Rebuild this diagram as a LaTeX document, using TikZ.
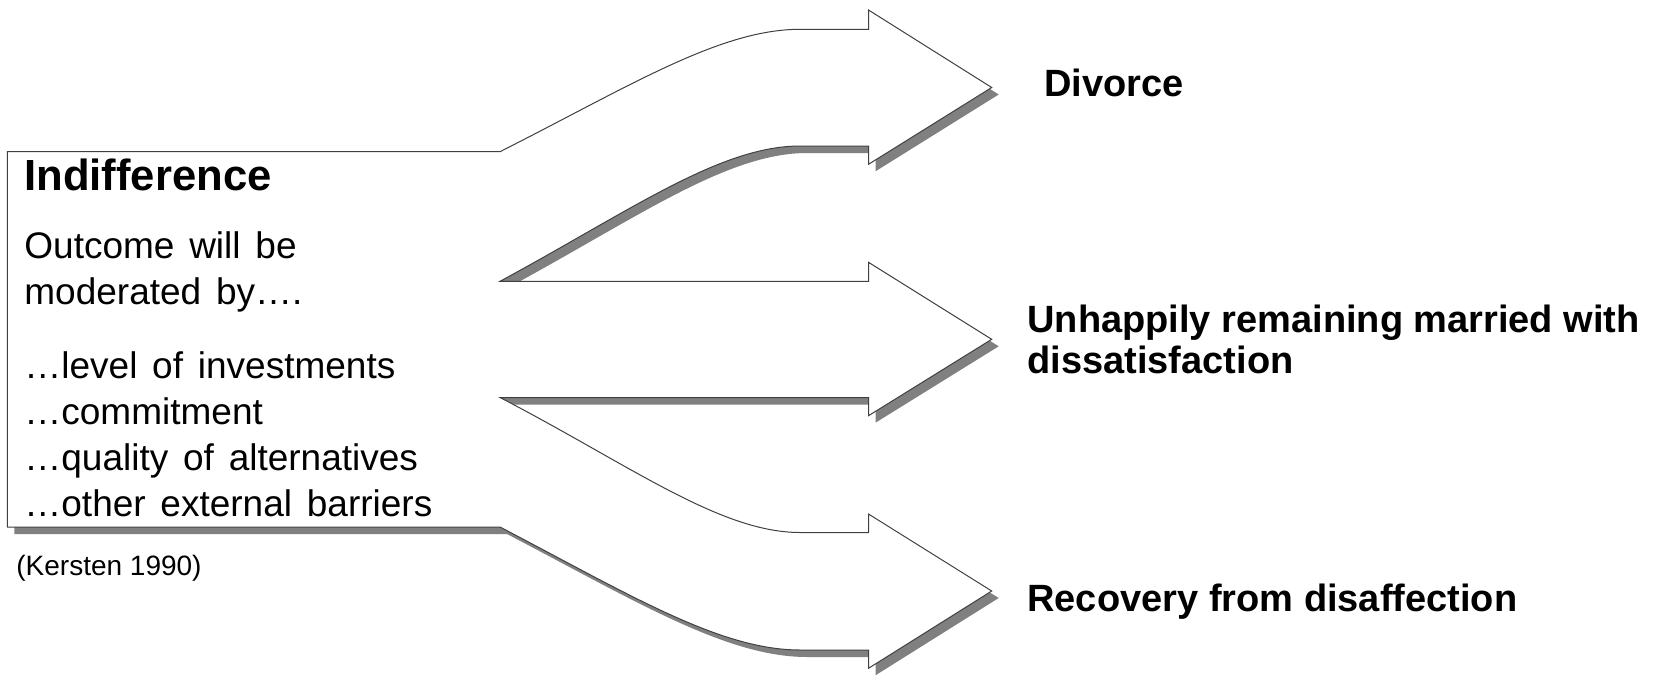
\documentclass[tikz,border=0pt]{standalone}
\usepackage{fontspec}
\setmainfont{Liberation Sans}
\usepackage{tikz}
\usetikzlibrary{shadows}

\begin{document}
\begin{tikzpicture}[
x=0.5pt, y=-0.5pt,
flowshape/.style={fill=white, draw=black!75, line width=0.5pt,
  drop shadow={shadow xshift=3.5pt, shadow yshift=-3.5pt, fill=black!50, opacity=1}},
titletext/.style={anchor=base west, inner sep=0pt, font=\fontsize{21.8}{25}\selectfont\bfseries},
bodytext/.style={anchor=base west, inner sep=0pt, font=\fontsize{18.5}{23}\selectfont,
  execute at begin node={\spaceskip=0.4em\relax}},
outcometext/.style={anchor=base west, inner sep=0pt, font=\fontsize{19}{20.5}\selectfont\bfseries},
citetext/.style={anchor=base west, inner sep=0pt, font=\fontsize{14}{17}\selectfont},
]
\useasboundingbox (0,0) rectangle (1660,675);

%Shape
\path[flowshape] (7.3,151.7) -- (500,151.7)
  .. controls (630,86) and (720,29.3) .. (800,29.3) -- (868.5,29.3) -- (868.5,10)
  -- (991.7,87.5) -- (868.5,164.3) -- (868.5,146) -- (800,146)
  .. controls (720,146) and (630,211) .. (500,281.3)
  -- (868.5,281.3) -- (868.5,262.3) -- (991.7,339.3) -- (868.5,415.7) -- (868.5,397.5) -- (500,397.5)
  .. controls (630,465) and (720,532.5) .. (800,532.5) -- (868.5,532.5) -- (868.5,514)
  -- (991.7,591) -- (868.5,668.3) -- (868.5,650) -- (800,650)
  .. controls (720,650) and (630,595) .. (500,527) -- (7.3,527) -- cycle;

%Nodes
\node[titletext]    (title)     at (24,190)    {Indifference};
\node[bodytext]     (outcome)   at (24,258.3)  {Outcome will be};
\node[bodytext]     (moderated) at (24,304.5)  {moderated by….};
\node[bodytext]     (invest)    at (24,378.3)  {…level of investments};
\node[bodytext]     (commit)    at (24,424.5)  {…commitment};
\node[bodytext]     (altern)    at (24,470.7)  {…quality of alternatives};
\node[bodytext]     (barrier)   at (24,516.9)  {…other external barriers};
\node[citetext]     (kersten)   at (16,575)    {(Kersten 1990)};

\node[outcometext]  (divorce)   at (1044,96)     {Divorce};
\node[outcometext]  (unhappy)   at (1027,332.7)  {Unhappily remaining married with};
\node[outcometext]  (dissat)    at (1027,373.3)  {dissatisfaction};
\node[outcometext]  (recovery)  at (1027,611)    {Recovery from disaffection};
\end{tikzpicture}
\end{document}
